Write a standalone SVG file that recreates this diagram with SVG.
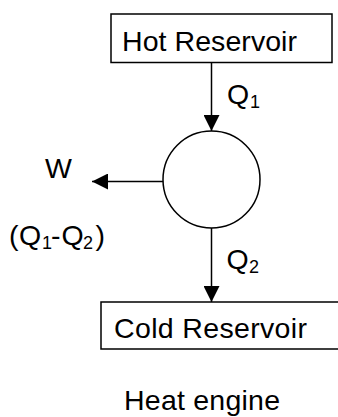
<svg xmlns="http://www.w3.org/2000/svg" width="338" height="417" viewBox="0 0 338 417">
<defs>
<style>
.box{fill:#fff;stroke:#000;stroke-width:1.5}
.ln{fill:none;stroke:#000;stroke-width:1.5}
.t{font-family:"Liberation Sans",Arial,sans-serif;font-size:28.5px;fill:#000}
.s{font-size:18px}
</style>
<marker id="ah" viewBox="0 0 16 16" refX="16" refY="8" markerWidth="16" markerHeight="16" markerUnits="userSpaceOnUse" orient="auto">
<path d="M0,0 L16,8 L0,16 Z" fill="#000"/>
</marker>
</defs>
<rect width="338" height="417" fill="#fff"/>
<g id="hot">
<rect class="box" x="111" y="14" width="221" height="48.5"/>
<text class="t" x="122" y="51" textLength="175">Hot Reservoir</text>
</g>
<g id="engine">
<circle class="ln" cx="211.5" cy="179.5" r="48.5"/>
</g>
<g id="cold">
<path class="ln" d="M340,302 H101 V349 H340"/>
<text class="t" x="114" y="338" textLength="193">Cold Reservoir</text>
</g>
<g id="connectors">
<line class="ln" x1="211.5" y1="62.5" x2="211.5" y2="131" marker-end="url(#ah)"/>
<line class="ln" x1="163" y1="181.5" x2="92" y2="181.5" marker-end="url(#ah)"/>
<line class="ln" x1="211.5" y1="228" x2="211.5" y2="302" marker-end="url(#ah)"/>
</g>
<g id="labels">
<text class="t" x="227" y="104">Q<tspan class="s" x="250" y="108">1</tspan></text>
<text class="t" x="45" y="178">W</text>
<text class="t" x="9" y="245">(<tspan x="19" y="245">Q</tspan><tspan class="s" x="42" y="249">1</tspan><tspan x="51" y="245">-</tspan><tspan x="61.5" y="245">Q</tspan><tspan class="s" x="83" y="249">2</tspan><tspan x="95.5" y="245">)</tspan></text>
<text class="t" x="226.5" y="269">Q<tspan class="s" x="249" y="273">2</tspan></text>
<text class="t" x="124" y="410" textLength="156">Heat engine</text>
</g>
</svg>
